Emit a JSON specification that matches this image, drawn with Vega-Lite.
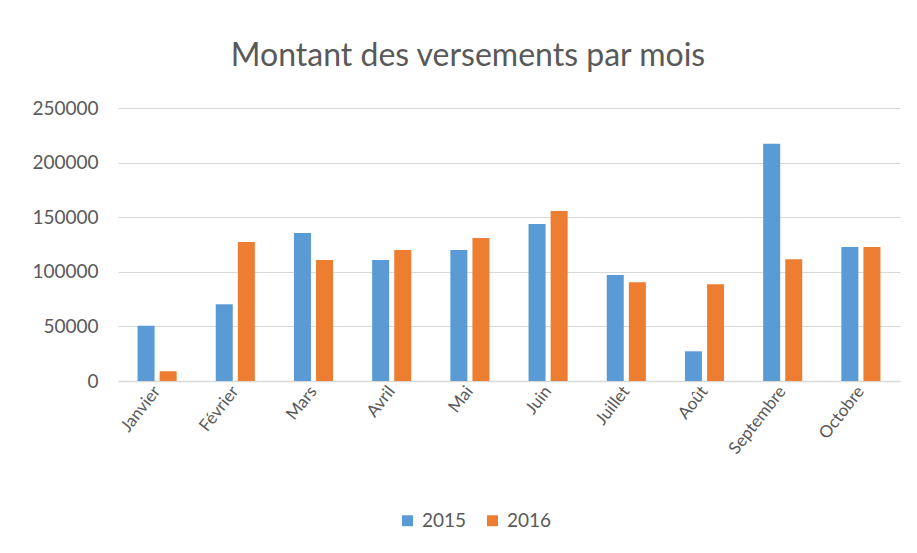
{
  "$schema": "https://vega.github.io/schema/vega-lite/v6.json",
  "width": 782,
  "height": 273,
  "autosize": {"type": "none"},
  "padding": {"left": 118, "top": 108, "right": 17, "bottom": 172},
  "background": "white",
  "title": {
    "text": "Montant des versements par mois",
    "font": "Lato",
    "fontSize": 32,
    "fontWeight": "normal",
    "color": "#595959",
    "anchor": "middle",
    "offset": 26,
    "dx": -41
  },
  "data": {
    "values": [
      {"mois": "Janvier", "annee": "2015", "montant": 50500},
      {"mois": "Janvier", "annee": "2016", "montant": 8900},
      {"mois": "Février", "annee": "2015", "montant": 70300},
      {"mois": "Février", "annee": "2016", "montant": 127300},
      {"mois": "Mars", "annee": "2015", "montant": 135500},
      {"mois": "Mars", "annee": "2016", "montant": 110700},
      {"mois": "Avril", "annee": "2015", "montant": 110700},
      {"mois": "Avril", "annee": "2016", "montant": 119900},
      {"mois": "Mai", "annee": "2015", "montant": 119900},
      {"mois": "Mai", "annee": "2016", "montant": 130900},
      {"mois": "Juin", "annee": "2015", "montant": 143800},
      {"mois": "Juin", "annee": "2016", "montant": 155700},
      {"mois": "Juillet", "annee": "2015", "montant": 97000},
      {"mois": "Juillet", "annee": "2016", "montant": 90500},
      {"mois": "Août", "annee": "2015", "montant": 27200},
      {"mois": "Août", "annee": "2016", "montant": 88700},
      {"mois": "Septembre", "annee": "2015", "montant": 217200},
      {"mois": "Septembre", "annee": "2016", "montant": 111600},
      {"mois": "Octobre", "annee": "2015", "montant": 122700},
      {"mois": "Octobre", "annee": "2016", "montant": 122700}
    ]
  },
  "mark": {"type": "bar"},
  "encoding": {
    "x": {
      "field": "mois",
      "type": "nominal",
      "sort": null,
      "title": null,
      "scale": {"paddingInner": 0.5, "paddingOuter": 0.25},
      "axis": {
        "labelAngle": -52,
        "labelFont": "Lato",
        "labelFontSize": 17,
        "labelColor": "#595959",
        "labelPadding": 7,
        "ticks": false,
        "domainColor": "#D9D9D9",
        "domainWidth": 1.5,
        "grid": false
      }
    },
    "xOffset": {
      "field": "annee",
      "type": "nominal",
      "scale": {"paddingInner": 0.23, "paddingOuter": 0}
    },
    "y": {
      "field": "montant",
      "type": "quantitative",
      "title": null,
      "scale": {"domain": [0, 250000]},
      "axis": {
        "values": [0, 50000, 100000, 150000, 200000, 250000],
        "format": "d",
        "labelFont": "Lato",
        "labelFontSize": 19,
        "labelColor": "#595959",
        "labelPadding": 20,
        "ticks": false,
        "domain": false,
        "gridColor": "#D9D9D9",
        "gridWidth": 1
      }
    },
    "color": {
      "field": "annee",
      "type": "nominal",
      "title": null,
      "scale": {"domain": ["2015", "2016"], "range": ["#5B9BD5", "#ED7D31"]},
      "legend": {
        "orient": "none",
        "legendX": 280,
        "legendY": 403,
        "direction": "horizontal",
        "symbolType": "square",
        "symbolSize": 120,
        "symbolStrokeWidth": 0,
        "labelFont": "Lato",
        "labelFontSize": 19,
        "labelColor": "#595959",
        "columnPadding": 16,
        "labelOffset": 5
      }
    }
  },
  "config": {
    "view": {"stroke": null}
  }
}
